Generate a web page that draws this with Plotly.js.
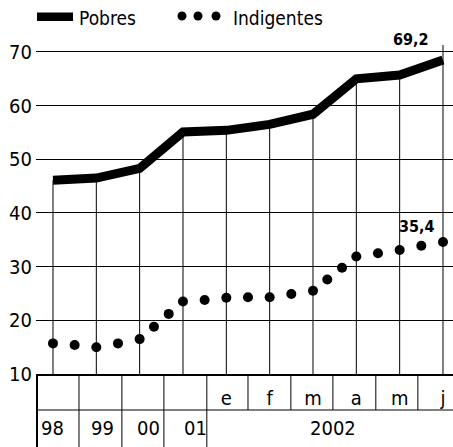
<!DOCTYPE html>
<html>
<head>
<meta charset="utf-8">
<script src="https://cdn.plot.ly/plotly-3.0.1.min.js"></script>
<style>html,body{margin:0;padding:0;background:#fff}#chart{width:453px;height:447px}</style>
</head>
<body>
<div id="chart"></div>
<script>
// ---- data ----
const categories = ['98', '99', '00', '01', 'e', 'f', 'm', 'a', 'm', 'j'];
const monthLabels = ['', '', '', '', 'e', 'f', 'm', 'a', 'm', 'j'];
const yearLabels = ['98', '99', '00', '01', '2002'];
const pobres = [46.1, 46.5, 48.3, 55.1, 55.4, 56.5, 58.4, 65.0, 65.7, 68.5];
const indigPos = [0, 0.5, 1, 1.5, 2, 2.33, 2.67, 3, 3.5, 4, 4.5, 5, 5.5, 6, 6.33, 6.67, 7, 7.5, 8, 8.5, 9];
const indigentes = [15.7, 15.4, 15.0, 15.7, 16.5, 18.8, 21.2, 23.5, 23.8, 24.2, 24.3, 24.3, 24.9, 25.5, 27.6, 29.8, 31.9, 32.5, 33.1, 33.9, 34.6];
const lastPobresLabel = '69,2';
const lastIndigLabel = '35,4';
const yTicks = [10, 20, 30, 40, 50, 60, 70];

// ---- chart ----
const FONT = '"Liberation Sans Narrow", "DejaVu Sans Condensed", "Arial Narrow", sans-serif';
const idx = categories.map((c, i) => i);
const yBase = 10;
const n = pobres.length;

const traces = [
  {
    x: idx, y: pobres, type: 'scatter', mode: 'lines', name: 'Pobres',
    line: {color: '#000', width: 9},
    error_y: {
      type: 'data', symmetric: false,
      array: pobres.map((v, i) => i === n - 1 ? 2.8 : 0),
      arrayminus: pobres.map(v => v - yBase),
      color: '#000', thickness: 1, width: 0
    },
    hoverinfo: 'skip', showlegend: false
  },
  {
    x: indigPos, y: indigentes, type: 'scatter', mode: 'markers', name: 'Indigentes',
    marker: {color: '#000', size: 10},
    hoverinfo: 'skip', showlegend: false
  }
];

const W = 453, H = 447, mL = 36, mR = 0, mT = 30, mB = 73;
const pw = W - mL - mR, ph = H - mT - mB;
const X0 = -0.392, X1 = 9.231;
const px = x => (x - mL) / pw;                       // pixel -> paper x
const pxd = x => X0 + (x - mL) / pw * (X1 - X0);     // pixel -> data x
const py = y => (H - mB - y) / ph;                   // pixel -> paper y

const shapes = [];
// table: row separator
shapes.push({type: 'line', xref: 'paper', yref: 'paper', x0: 0, x1: 1, y0: py(410), y1: py(410), line: {color: '#000', width: 1}});
// left border
shapes.push({type: 'line', xref: 'paper', yref: 'paper', x0: px(37), x1: px(37), y0: py(374), y1: py(447), line: {color: '#000', width: 2}});
// column boundaries
const bounds = [0.6, 1.59, 2.56, 3.55, 4.5, 5.49, 6.46, 7.45, 8.42];
bounds.forEach((b, i) => {
  shapes.push({type: 'line', xref: 'x', yref: 'paper', x0: b, x1: b, y0: py(374), y1: i < 4 ? py(447) : py(410), line: {color: '#000', width: 1}});
});
// legend
shapes.push({type: 'rect', xref: 'x', yref: 'paper', x0: pxd(37), x1: pxd(73), y0: py(12.5), y1: py(21), fillcolor: '#000', line: {width: 0}});
[182, 198, 216].forEach(cx => {
  shapes.push({type: 'circle', xref: 'paper', yref: 'paper', x0: px(cx - 4.5), x1: px(cx + 4.5), y0: py(11.5), y1: py(20.5), fillcolor: '#000', line: {width: 0}});
});

const annotations = [];
annotations.push({xref: 'paper', yref: 'paper', x: px(77), y: py(17.5), xanchor: 'left', yanchor: 'middle', text: 'Pobres', showarrow: false, font: {family: FONT, size: 19, color: '#000'}});
annotations.push({xref: 'paper', yref: 'paper', x: px(231), y: py(17.5), xanchor: 'left', yanchor: 'middle', text: 'Indigentes', showarrow: false, font: {family: FONT, size: 19, color: '#000'}});
annotations.push({xref: 'x', yref: 'y', x: 8.27, y: 72.4, text: '<b>' + lastPobresLabel + '</b>', showarrow: false, bgcolor: '#fff', borderpad: 0, font: {family: FONT, size: 16, color: '#000'}});
annotations.push({xref: 'x', yref: 'y', x: 8.4, y: 37.4, text: '<b>' + lastIndigLabel + '</b>', showarrow: false, borderpad: 0, font: {family: FONT, size: 16, color: '#000'}});
const yearPos = [0, 1.15, 2.2, 3.28, 6.46];
yearLabels.forEach((t, i) => {
  annotations.push({xref: 'x', yref: 'paper', x: yearPos[i], y: py(428), yanchor: 'middle', text: t, showarrow: false, font: {family: FONT, size: 20, color: '#000'}});
});

const layout = {
  width: W, height: H,
  margin: {l: mL, r: mR, t: mT, b: mB, pad: 0},
  paper_bgcolor: '#fff', plot_bgcolor: '#fff',
  showlegend: false,
  font: {family: FONT, size: 20, color: '#000'},
  xaxis: {
    range: [X0, X1], tickmode: 'array', tickvals: idx, ticktext: monthLabels,
    showgrid: false, zeroline: false, showline: true, linecolor: '#000', linewidth: 2,
    ticks: '', tickfont: {family: FONT, size: 20, color: '#000'}, ticklabelstandoff: 5, fixedrange: true
  },
  yaxis: {
    range: [10, 10 + ph / 53.67 * 10], tickmode: 'array', tickvals: yTicks,
    showgrid: true, gridcolor: '#000', gridwidth: 1, zeroline: false, showline: false,
    ticks: '', tickfont: {family: FONT, size: 20, color: '#000'}, ticklabelstandoff: 3, fixedrange: true
  },
  shapes: shapes,
  annotations: annotations
};

Plotly.newPlot('chart', traces, layout, {displayModeBar: false, staticPlot: true});
</script>
</body>
</html>
